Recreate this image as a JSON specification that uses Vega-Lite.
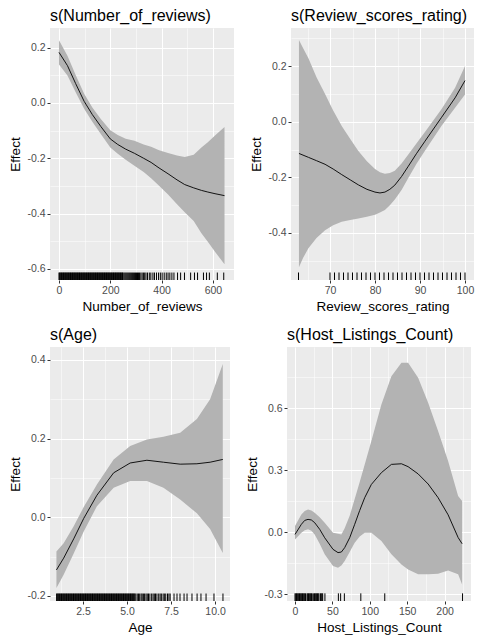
{
  "$schema": "https://vega.github.io/schema/vega-lite/v6.json",
  "padding": {"left": 8, "top": 8, "right": 4, "bottom": 4},
  "config": {
    "locale": {"number": {"decimal": ".", "thousands": ",", "grouping": [3], "currency": ["$", ""], "minus": "-"}},
    "view": {"fill": "#EBEBEB", "stroke": null},
    "font": "Liberation Sans",
    "axis": {
      "labelFont": "Liberation Sans", "labelFontSize": 10.5, "labelColor": "#4D4D4D",
      "titleFont": "Liberation Sans", "titleFontSize": 13.5, "titleFontWeight": "normal", "titleColor": "#000000",
      "tickColor": "#333333", "tickSize": 3, "domain": false, "gridColor": "#FFFFFF", "gridWidth": 1.1,
      "labelPadding": 2, "titlePadding": 4, "minExtent": 0, "labelFlush": false, "labelOverlap": false
    },
    "title": {"font": "Liberation Sans", "fontSize": 16, "fontWeight": "normal", "color": "#000000", "anchor": "start", "frame": "group", "offset": 4}
  },
  "datasets": {
    "nr_fit": [
      {"x": 0, "fit": 0.183, "lo": 0.139, "hi": 0.227},
      {"x": 33, "fit": 0.135, "lo": 0.099, "hi": 0.171},
      {"x": 65, "fit": 0.070, "lo": 0.039, "hi": 0.101},
      {"x": 98, "fit": 0.006, "lo": -0.021, "hi": 0.033},
      {"x": 130, "fit": -0.042, "lo": -0.068, "hi": -0.016},
      {"x": 163, "fit": -0.085, "lo": -0.112, "hi": -0.058},
      {"x": 200, "fit": -0.130, "lo": -0.161, "hi": -0.099},
      {"x": 229, "fit": -0.150, "lo": -0.184, "hi": -0.116},
      {"x": 260, "fit": -0.167, "lo": -0.205, "hi": -0.129},
      {"x": 294, "fit": -0.182, "lo": -0.227, "hi": -0.137},
      {"x": 330, "fit": -0.200, "lo": -0.250, "hi": -0.150},
      {"x": 359, "fit": -0.215, "lo": -0.272, "hi": -0.158},
      {"x": 390, "fit": -0.235, "lo": -0.299, "hi": -0.171},
      {"x": 425, "fit": -0.256, "lo": -0.331, "hi": -0.181},
      {"x": 460, "fit": -0.278, "lo": -0.366, "hi": -0.190},
      {"x": 490, "fit": -0.295, "lo": -0.395, "hi": -0.195},
      {"x": 525, "fit": -0.307, "lo": -0.427, "hi": -0.187},
      {"x": 555, "fit": -0.316, "lo": -0.471, "hi": -0.161},
      {"x": 580, "fit": -0.322, "lo": -0.502, "hi": -0.142},
      {"x": 608, "fit": -0.328, "lo": -0.538, "hi": -0.118},
      {"x": 645, "fit": -0.335, "lo": -0.583, "hi": -0.087}
    ],
    "nr_rug": [
      {"v": 0}, {"v": 2.5}, {"v": 5}, {"v": 7.5}, {"v": 10}, {"v": 12.5}, {"v": 15}, {"v": 17.5}, {"v": 20}, {"v": 22.5},
      {"v": 25}, {"v": 27.5}, {"v": 30}, {"v": 32.5}, {"v": 35}, {"v": 37.5}, {"v": 40}, {"v": 42.5}, {"v": 45}, {"v": 47.5},
      {"v": 50}, {"v": 52.5}, {"v": 55}, {"v": 57.5}, {"v": 60}, {"v": 62.5}, {"v": 65}, {"v": 67.5}, {"v": 70}, {"v": 72.5},
      {"v": 75}, {"v": 77.5}, {"v": 80}, {"v": 82.5}, {"v": 85}, {"v": 87.5}, {"v": 90}, {"v": 92.5}, {"v": 95}, {"v": 97.5},
      {"v": 100}, {"v": 102.5}, {"v": 105}, {"v": 107.5}, {"v": 110}, {"v": 112.5}, {"v": 115}, {"v": 117.5}, {"v": 120}, {"v": 122.5},
      {"v": 125}, {"v": 127.5}, {"v": 130}, {"v": 132.5}, {"v": 135}, {"v": 137.5}, {"v": 140}, {"v": 142.5}, {"v": 145}, {"v": 147.5},
      {"v": 150}, {"v": 152.5}, {"v": 155}, {"v": 157.5}, {"v": 160}, {"v": 162.5}, {"v": 165}, {"v": 167.5}, {"v": 170}, {"v": 172.5},
      {"v": 175}, {"v": 177.5}, {"v": 180}, {"v": 182.5}, {"v": 185}, {"v": 187.5}, {"v": 190}, {"v": 192.5}, {"v": 195}, {"v": 197.5},
      {"v": 200}, {"v": 202.5}, {"v": 205}, {"v": 207.5}, {"v": 210}, {"v": 212.5}, {"v": 215}, {"v": 217.5}, {"v": 220}, {"v": 222.5},
      {"v": 225}, {"v": 227.5}, {"v": 230}, {"v": 232.5}, {"v": 235}, {"v": 237.5}, {"v": 240}, {"v": 242.5}, {"v": 245}, {"v": 247.5},
      {"v": 250}, {"v": 254}, {"v": 258}, {"v": 262}, {"v": 266}, {"v": 270}, {"v": 274}, {"v": 278}, {"v": 282}, {"v": 286},
      {"v": 290}, {"v": 294}, {"v": 298}, {"v": 302}, {"v": 306}, {"v": 310}, {"v": 314}, {"v": 319}, {"v": 324}, {"v": 329},
      {"v": 334}, {"v": 339}, {"v": 345}, {"v": 352}, {"v": 358}, {"v": 366}, {"v": 372}, {"v": 380}, {"v": 388}, {"v": 395},
      {"v": 402}, {"v": 410}, {"v": 418}, {"v": 425}, {"v": 432}, {"v": 440}, {"v": 448}, {"v": 462}, {"v": 474}, {"v": 489},
      {"v": 513}, {"v": 528}, {"v": 540}, {"v": 563}, {"v": 575}, {"v": 586}, {"v": 617}, {"v": 642}
    ],
    "rs_fit": [
      {"x": 63.1, "fit": -0.114, "lo": -0.523, "hi": 0.294},
      {"x": 64.0, "fit": -0.120, "lo": -0.490, "hi": 0.265},
      {"x": 65.2, "fit": -0.128, "lo": -0.455, "hi": 0.228},
      {"x": 67.0, "fit": -0.140, "lo": -0.418, "hi": 0.160},
      {"x": 68.9, "fit": -0.153, "lo": -0.390, "hi": 0.100},
      {"x": 70.7, "fit": -0.170, "lo": -0.372, "hi": 0.040},
      {"x": 72.6, "fit": -0.190, "lo": -0.360, "hi": -0.015},
      {"x": 74.5, "fit": -0.209, "lo": -0.353, "hi": -0.062},
      {"x": 76.3, "fit": -0.227, "lo": -0.348, "hi": -0.105},
      {"x": 78.2, "fit": -0.243, "lo": -0.342, "hi": -0.142},
      {"x": 80.0, "fit": -0.253, "lo": -0.334, "hi": -0.170},
      {"x": 81.1, "fit": -0.256, "lo": -0.326, "hi": -0.182},
      {"x": 82.2, "fit": -0.253, "lo": -0.317, "hi": -0.187},
      {"x": 83.3, "fit": -0.243, "lo": -0.300, "hi": -0.184},
      {"x": 84.4, "fit": -0.228, "lo": -0.280, "hi": -0.176},
      {"x": 85.9, "fit": -0.197, "lo": -0.245, "hi": -0.150},
      {"x": 87.4, "fit": -0.160, "lo": -0.202, "hi": -0.118},
      {"x": 89.2, "fit": -0.115, "lo": -0.152, "hi": -0.078},
      {"x": 91.1, "fit": -0.070, "lo": -0.104, "hi": -0.037},
      {"x": 94.8, "fit": 0.016, "lo": -0.014, "hi": 0.046},
      {"x": 97.8, "fit": 0.086, "lo": 0.050, "hi": 0.122},
      {"x": 100.0, "fit": 0.148, "lo": 0.098, "hi": 0.200}
    ],
    "rs_rug": [
      {"v": 63}, {"v": 70}, {"v": 71}, {"v": 72}, {"v": 73}, {"v": 74}, {"v": 75}, {"v": 76}, {"v": 77}, {"v": 78},
      {"v": 79}, {"v": 80}, {"v": 81}, {"v": 82}, {"v": 83}, {"v": 84}, {"v": 85}, {"v": 86}, {"v": 87}, {"v": 88},
      {"v": 89}, {"v": 90}, {"v": 91}, {"v": 92}, {"v": 93}, {"v": 94}, {"v": 95}, {"v": 96}, {"v": 97}, {"v": 98},
      {"v": 99}, {"v": 100}
    ],
    "age_fit": [
      {"x": 0.99, "fit": -0.134, "lo": -0.180, "hi": -0.087},
      {"x": 1.40, "fit": -0.104, "lo": -0.146, "hi": -0.066},
      {"x": 1.97, "fit": -0.055, "lo": -0.092, "hi": -0.023},
      {"x": 2.54, "fit": -0.003, "lo": -0.036, "hi": 0.026},
      {"x": 3.29, "fit": 0.056, "lo": 0.028, "hi": 0.083},
      {"x": 4.24, "fit": 0.113, "lo": 0.075, "hi": 0.147},
      {"x": 5.18, "fit": 0.138, "lo": 0.092, "hi": 0.181},
      {"x": 6.13, "fit": 0.145, "lo": 0.092, "hi": 0.198},
      {"x": 7.07, "fit": 0.140, "lo": 0.075, "hi": 0.205},
      {"x": 8.02, "fit": 0.135, "lo": 0.045, "hi": 0.215},
      {"x": 8.97, "fit": 0.136, "lo": 0.010, "hi": 0.250},
      {"x": 9.72, "fit": 0.140, "lo": -0.030, "hi": 0.300},
      {"x": 10.44, "fit": 0.147, "lo": -0.091, "hi": 0.390}
    ],
    "age_rug": [
      {"v": 1.00}, {"v": 1.04}, {"v": 1.08}, {"v": 1.12}, {"v": 1.16}, {"v": 1.20}, {"v": 1.24}, {"v": 1.28}, {"v": 1.32}, {"v": 1.36},
      {"v": 1.40}, {"v": 1.44}, {"v": 1.48}, {"v": 1.52}, {"v": 1.56}, {"v": 1.60}, {"v": 1.64}, {"v": 1.68}, {"v": 1.72}, {"v": 1.76},
      {"v": 1.80}, {"v": 1.84}, {"v": 1.88}, {"v": 1.92}, {"v": 1.96}, {"v": 2.00}, {"v": 2.04}, {"v": 2.08}, {"v": 2.12}, {"v": 2.16},
      {"v": 2.20}, {"v": 2.24}, {"v": 2.28}, {"v": 2.32}, {"v": 2.36}, {"v": 2.40}, {"v": 2.44}, {"v": 2.48}, {"v": 2.52}, {"v": 2.56},
      {"v": 2.60}, {"v": 2.64}, {"v": 2.68}, {"v": 2.72}, {"v": 2.76}, {"v": 2.80}, {"v": 2.84}, {"v": 2.88}, {"v": 2.92}, {"v": 2.96},
      {"v": 3.00}, {"v": 3.04}, {"v": 3.08}, {"v": 3.12}, {"v": 3.16}, {"v": 3.20}, {"v": 3.24}, {"v": 3.28}, {"v": 3.32}, {"v": 3.36},
      {"v": 3.40}, {"v": 3.44}, {"v": 3.48}, {"v": 3.52}, {"v": 3.56}, {"v": 3.60}, {"v": 3.64}, {"v": 3.68}, {"v": 3.72}, {"v": 3.76},
      {"v": 3.80}, {"v": 3.84}, {"v": 3.88}, {"v": 3.92}, {"v": 3.96}, {"v": 4.00}, {"v": 4.04}, {"v": 4.08}, {"v": 4.12}, {"v": 4.16},
      {"v": 4.20}, {"v": 4.24}, {"v": 4.28}, {"v": 4.32}, {"v": 4.36}, {"v": 4.40}, {"v": 4.44}, {"v": 4.48}, {"v": 4.52}, {"v": 4.56},
      {"v": 4.60}, {"v": 4.64}, {"v": 4.68}, {"v": 4.72}, {"v": 4.76}, {"v": 4.80}, {"v": 4.84}, {"v": 4.88}, {"v": 4.92}, {"v": 4.96},
      {"v": 5.00}, {"v": 5.04}, {"v": 5.08}, {"v": 5.12}, {"v": 5.16}, {"v": 5.20}, {"v": 5.24}, {"v": 5.28}, {"v": 5.32}, {"v": 5.36},
      {"v": 5.40}, {"v": 5.44}, {"v": 5.50}, {"v": 5.58}, {"v": 5.65}, {"v": 5.72}, {"v": 5.80}, {"v": 5.86}, {"v": 5.93}, {"v": 6.00},
      {"v": 6.08}, {"v": 6.15}, {"v": 6.22}, {"v": 6.30}, {"v": 6.40}, {"v": 6.48}, {"v": 6.55}, {"v": 6.62}, {"v": 6.70}, {"v": 6.80},
      {"v": 6.88}, {"v": 6.95}, {"v": 7.05}, {"v": 7.12}, {"v": 7.20}, {"v": 7.30}, {"v": 7.38}, {"v": 7.45}, {"v": 7.67}, {"v": 7.84},
      {"v": 8.01}, {"v": 8.24}, {"v": 8.41}, {"v": 8.69}, {"v": 8.98}, {"v": 9.20}, {"v": 9.49}, {"v": 9.94}, {"v": 10.45}
    ],
    "hl_fit": [
      {"x": 0, "fit": -0.010, "lo": -0.034, "hi": 0.031},
      {"x": 8.5, "fit": 0.039, "lo": -0.002, "hi": 0.087},
      {"x": 13, "fit": 0.058, "lo": 0.010, "hi": 0.104},
      {"x": 17.4, "fit": 0.063, "lo": 0.015, "hi": 0.111},
      {"x": 21.9, "fit": 0.060, "lo": 0.008, "hi": 0.106},
      {"x": 26.3, "fit": 0.047, "lo": -0.010, "hi": 0.095},
      {"x": 33, "fit": 0.015, "lo": -0.055, "hi": 0.073},
      {"x": 39.7, "fit": -0.026, "lo": -0.106, "hi": 0.047},
      {"x": 50.8, "fit": -0.082, "lo": -0.163, "hi": -0.002},
      {"x": 57.5, "fit": -0.098, "lo": -0.171, "hi": -0.006},
      {"x": 62, "fit": -0.095, "lo": -0.160, "hi": -0.010},
      {"x": 66.4, "fit": -0.074, "lo": -0.139, "hi": 0.020},
      {"x": 73.1, "fit": -0.026, "lo": -0.095, "hi": 0.080},
      {"x": 79.8, "fit": 0.039, "lo": -0.050, "hi": 0.162},
      {"x": 86.5, "fit": 0.106, "lo": -0.020, "hi": 0.244},
      {"x": 93.2, "fit": 0.168, "lo": -0.002, "hi": 0.329},
      {"x": 102.1, "fit": 0.232, "lo": -0.002, "hi": 0.442},
      {"x": 115.5, "fit": 0.289, "lo": -0.042, "hi": 0.619},
      {"x": 128.9, "fit": 0.329, "lo": -0.106, "hi": 0.756},
      {"x": 142.3, "fit": 0.332, "lo": -0.155, "hi": 0.821},
      {"x": 151.2, "fit": 0.318, "lo": -0.179, "hi": 0.821},
      {"x": 164.6, "fit": 0.283, "lo": -0.203, "hi": 0.748},
      {"x": 178, "fit": 0.234, "lo": -0.203, "hi": 0.627},
      {"x": 191.3, "fit": 0.168, "lo": -0.200, "hi": 0.490},
      {"x": 204.7, "fit": 0.085, "lo": -0.185, "hi": 0.345},
      {"x": 218.1, "fit": -0.025, "lo": -0.203, "hi": 0.176},
      {"x": 223.4, "fit": -0.055, "lo": -0.252, "hi": 0.152}
    ],
    "hl_rug": [
      {"v": 0}, {"v": 1}, {"v": 2}, {"v": 3}, {"v": 4}, {"v": 5}, {"v": 6}, {"v": 7}, {"v": 8}, {"v": 9},
      {"v": 10}, {"v": 11}, {"v": 12}, {"v": 13}, {"v": 14}, {"v": 16}, {"v": 17}, {"v": 18}, {"v": 19}, {"v": 20},
      {"v": 21}, {"v": 22}, {"v": 23}, {"v": 25}, {"v": 26}, {"v": 27}, {"v": 28}, {"v": 29}, {"v": 30}, {"v": 31},
      {"v": 32}, {"v": 34}, {"v": 35}, {"v": 36}, {"v": 37}, {"v": 40}, {"v": 58}, {"v": 61}, {"v": 66}, {"v": 88},
      {"v": 120}, {"v": 224}
    ]
  },
  "spacing": 14,
  "vconcat": [
    {
      "spacing": 15,
      "hconcat": [
        {
          "width": 184, "height": 252,
          "title": {"text": "s(Number_of_reviews)"},
          "layer": [
            {"data": {"name": "nr_fit"}, "mark": {"type": "area", "color": "#B3B3B3", "opacity": 1},
             "encoding": {
               "x": {"field": "x", "type": "quantitative", "scale": {"domain": [-35, 682], "nice": false, "zero": false},
                     "axis": {"orient": "bottom", "values": [100, 300, 500], "grid": true, "gridWidth": 0.5, "ticks": false, "labels": false, "title": null}},
               "y": {"field": "lo", "type": "quantitative", "scale": {"domain": [-0.64, 0.271], "nice": false, "zero": false},
                     "axis": {"orient": "left", "values": [-0.5, -0.3, -0.1, 0.1], "grid": true, "gridWidth": 0.5, "ticks": false, "labels": false, "title": null}},
               "y2": {"field": "hi"}
             }},
            {"data": {"name": "nr_fit"}, "mark": {"type": "line", "color": "#000000", "strokeWidth": 0.9},
             "encoding": {
               "x": {"field": "x", "type": "quantitative", "axis": {"orient": "bottom", "values": [0, 200, 400, 600], "grid": true, "title": "Number_of_reviews"}},
               "y": {"field": "fit", "type": "quantitative", "axis": {"orient": "left", "values": [-0.6, -0.4, -0.2, 0, 0.2], "format": ".1f", "grid": true, "title": "Effect"}}
             }},
            {"data": {"name": "nr_rug"}, "mark": {"type": "rule", "color": "#000000", "strokeWidth": 1},
             "encoding": {
               "x": {"field": "v", "type": "quantitative", "axis": null},
               "y": {"datum": -0.64, "type": "quantitative", "axis": null},
               "y2": {"datum": -0.613}
             }}
          ],
          "resolve": {"axis": {"x": "independent", "y": "independent"}}
        },
        {
          "width": 183, "height": 252,
          "title": {"text": "s(Review_scores_rating)"},
          "layer": [
            {"data": {"name": "rs_fit"}, "mark": {"type": "area", "color": "#B3B3B3", "opacity": 1},
             "encoding": {
               "x": {"field": "x", "type": "quantitative", "scale": {"domain": [61.33, 102], "nice": false, "zero": false},
                     "axis": {"orient": "bottom", "values": [65, 75, 85, 95], "grid": true, "gridWidth": 0.5, "ticks": false, "labels": false, "title": null}},
               "y": {"field": "lo", "type": "quantitative", "scale": {"domain": [-0.569, 0.337], "nice": false, "zero": false},
                     "axis": {"orient": "left", "values": [-0.5, -0.3, -0.1, 0.1, 0.3], "grid": true, "gridWidth": 0.5, "ticks": false, "labels": false, "title": null}},
               "y2": {"field": "hi"}
             }},
            {"data": {"name": "rs_fit"}, "mark": {"type": "line", "color": "#000000", "strokeWidth": 0.9},
             "encoding": {
               "x": {"field": "x", "type": "quantitative", "axis": {"orient": "bottom", "values": [70, 80, 90, 100], "grid": true, "title": "Review_scores_rating"}},
               "y": {"field": "fit", "type": "quantitative", "axis": {"orient": "left", "values": [-0.4, -0.2, 0, 0.2], "format": ".1f", "grid": true, "title": "Effect"}}
             }},
            {"data": {"name": "rs_rug"}, "mark": {"type": "rule", "color": "#000000", "strokeWidth": 1},
             "encoding": {
               "x": {"field": "v", "type": "quantitative", "axis": null},
               "y": {"datum": -0.569, "type": "quantitative", "axis": null},
               "y2": {"datum": -0.542}
             }}
          ],
          "resolve": {"axis": {"x": "independent", "y": "independent"}}
        }
      ]
    },
    {
      "spacing": 15,
      "hconcat": [
        {
          "width": 180, "height": 254,
          "title": {"text": "s(Age)"},
          "layer": [
            {"data": {"name": "age_fit"}, "mark": {"type": "area", "color": "#B3B3B3", "opacity": 1},
             "encoding": {
               "x": {"field": "x", "type": "quantitative", "scale": {"domain": [0.625, 10.85], "nice": false, "zero": false},
                     "axis": {"orient": "bottom", "values": [1.25, 3.75, 6.25, 8.75], "grid": true, "gridWidth": 0.5, "ticks": false, "labels": false, "title": null}},
               "y": {"field": "lo", "type": "quantitative", "scale": {"domain": [-0.213, 0.433], "nice": false, "zero": false},
                     "axis": {"orient": "left", "values": [-0.1, 0.1, 0.3], "grid": true, "gridWidth": 0.5, "ticks": false, "labels": false, "title": null}},
               "y2": {"field": "hi"}
             }},
            {"data": {"name": "age_fit"}, "mark": {"type": "line", "color": "#000000", "strokeWidth": 0.9},
             "encoding": {
               "x": {"field": "x", "type": "quantitative", "axis": {"orient": "bottom", "values": [2.5, 5, 7.5, 10], "format": ".1f", "grid": true, "title": "Age"}},
               "y": {"field": "fit", "type": "quantitative", "axis": {"orient": "left", "values": [-0.2, 0, 0.2, 0.4], "format": ".1f", "grid": true, "title": "Effect"}}
             }},
            {"data": {"name": "age_rug"}, "mark": {"type": "rule", "color": "#000000", "strokeWidth": 1},
             "encoding": {
               "x": {"field": "v", "type": "quantitative", "axis": null},
               "y": {"datum": -0.213, "type": "quantitative", "axis": null},
               "y2": {"datum": -0.194}
             }}
          ],
          "resolve": {"axis": {"x": "independent", "y": "independent"}}
        },
        {
          "width": 184, "height": 254,
          "title": {"text": "s(Host_Listings_Count)"},
          "layer": [
            {"data": {"name": "hl_fit"}, "mark": {"type": "area", "color": "#B3B3B3", "opacity": 1},
             "encoding": {
               "x": {"field": "x", "type": "quantitative", "scale": {"domain": [-10.7, 235.3], "nice": false, "zero": false},
                     "axis": {"orient": "bottom", "values": [25, 75, 125, 175, 225], "grid": true, "gridWidth": 0.5, "ticks": false, "labels": false, "title": null}},
               "y": {"field": "lo", "type": "quantitative", "scale": {"domain": [-0.332, 0.897], "nice": false, "zero": false},
                     "axis": {"orient": "left", "values": [-0.15, 0.15, 0.45, 0.75], "grid": true, "gridWidth": 0.5, "ticks": false, "labels": false, "title": null}},
               "y2": {"field": "hi"}
             }},
            {"data": {"name": "hl_fit"}, "mark": {"type": "line", "color": "#000000", "strokeWidth": 0.9},
             "encoding": {
               "x": {"field": "x", "type": "quantitative", "axis": {"orient": "bottom", "values": [0, 50, 100, 150, 200], "grid": true, "title": "Host_Listings_Count"}},
               "y": {"field": "fit", "type": "quantitative", "axis": {"orient": "left", "values": [-0.3, 0, 0.3, 0.6], "format": ".1f", "grid": true, "title": "Effect"}}
             }},
            {"data": {"name": "hl_rug"}, "mark": {"type": "rule", "color": "#000000", "strokeWidth": 1},
             "encoding": {
               "x": {"field": "v", "type": "quantitative", "axis": null},
               "y": {"datum": -0.332, "type": "quantitative", "axis": null},
               "y2": {"datum": -0.295}
             }}
          ],
          "resolve": {"axis": {"x": "independent", "y": "independent"}}
        }
      ]
    }
  ]
}
